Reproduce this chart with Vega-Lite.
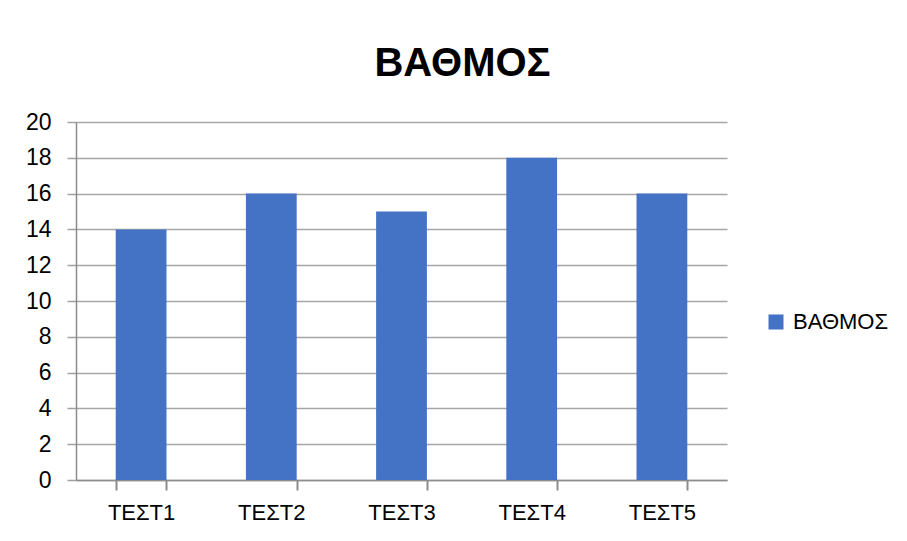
{
  "$schema": "https://vega.github.io/schema/vega-lite/v6.json",
  "autosize": {"type": "none"},
  "width": 651,
  "height": 358,
  "padding": {"left": 76, "top": 122, "right": 180, "bottom": 61},
  "background": "white",
  "title": {
    "text": "ΒΑΘΜΟΣ",
    "font": "Liberation Sans",
    "fontSize": 40,
    "fontWeight": "bold",
    "color": "#000000",
    "anchor": "middle",
    "baseline": "alphabetic",
    "offset": -5,
    "dx": 61
  },
  "data": {
    "values": [
      {"test": "ΤΕΣΤ1", "grade": 14, "series": "ΒΑΘΜΟΣ"},
      {"test": "ΤΕΣΤ2", "grade": 16, "series": "ΒΑΘΜΟΣ"},
      {"test": "ΤΕΣΤ3", "grade": 15, "series": "ΒΑΘΜΟΣ"},
      {"test": "ΤΕΣΤ4", "grade": 18, "series": "ΒΑΘΜΟΣ"},
      {"test": "ΤΕΣΤ5", "grade": 16, "series": "ΒΑΘΜΟΣ"}
    ]
  },
  "mark": {"type": "bar"},
  "encoding": {
    "x": {
      "field": "test",
      "type": "ordinal",
      "sort": null,
      "scale": {"type": "band", "paddingInner": 0.61, "paddingOuter": 0.305},
      "axis": {
        "title": null,
        "labelAngle": 0,
        "labelFont": "Liberation Sans",
        "labelFontSize": 22,
        "labelColor": "#000000",
        "labelPadding": 12,
        "domainColor": "#8c8c8c",
        "domainWidth": 1.5,
        "grid": false,
        "ticks": true,
        "tickBand": "extent",
        "tickExtra": true,
        "tickSize": 10,
        "tickColor": "#8c8c8c",
        "tickWidth": 2,
        "tickOpacity": 1,
        "tickCap": "butt"
      }
    },
    "y": {
      "field": "grade",
      "type": "quantitative",
      "scale": {"domain": [0, 20], "nice": false},
      "axis": {
        "title": null,
        "values": [0, 2, 4, 6, 8, 10, 12, 14, 16, 18, 20],
        "labelFont": "Liberation Sans",
        "labelFontSize": 23,
        "labelColor": "#000000",
        "labelPadding": 16,
        "ticks": true,
        "tickSize": 9,
        "tickColor": "#a0a0a0",
        "tickWidth": 1.5,
        "domainColor": "#8c8c8c",
        "domainWidth": 1.5,
        "grid": true,
        "gridColor": "#a6a6a6",
        "gridWidth": 1.5
      }
    },
    "color": {
      "field": "series",
      "type": "nominal",
      "scale": {"range": ["#4472C4"]},
      "legend": {
        "title": null,
        "orient": "none",
        "legendX": 689,
        "legendY": 189,
        "padding": 0,
        "symbolType": "square",
        "symbolSize": 225,
        "symbolStrokeWidth": 0,
        "labelFont": "Liberation Sans",
        "labelFontSize": 22,
        "labelColor": "#000000",
        "labelOffset": 6
      }
    }
  },
  "config": {
    "view": {"stroke": null}
  }
}
